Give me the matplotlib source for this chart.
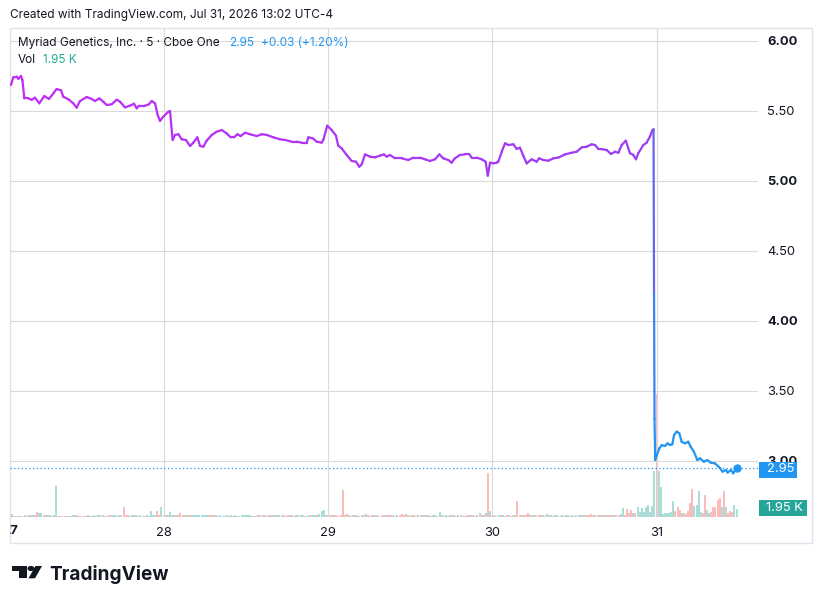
import numpy as np
import matplotlib
matplotlib.use('Agg')
import matplotlib.pyplot as plt
from matplotlib.collections import LineCollection
from matplotlib.colors import to_rgb
from matplotlib.patches import Rectangle, Polygon, Circle

W, H = 822, 604

# ── price line (5-min, days of the month) ──────────────────────────
t_price = [27.071, 27.085, 27.106, 27.116, 27.132, 27.141, 27.152, 27.177, 27.197, 27.217,
           27.243, 27.274, 27.302, 27.329, 27.349, 27.376, 27.389, 27.420, 27.450, 27.471,
           27.491, 27.532, 27.562, 27.582, 27.609, 27.633, 27.654, 27.684, 27.715, 27.735,
           27.765, 27.795, 27.820, 27.836, 27.850, 27.887, 27.911, 27.928, 27.948, 27.964,
           27.978, 27.998, 28.029, 28.039, 28.055, 28.069, 28.090, 28.110, 28.136, 28.161,
           28.181, 28.205, 28.222, 28.242, 28.262, 28.293, 28.323, 28.354, 28.384, 28.408,
           28.429, 28.449, 28.469, 28.496, 28.526, 28.567, 28.597, 28.628, 28.668, 28.708,
           28.739, 28.780, 28.810, 28.840, 28.871, 28.881, 28.907, 28.932, 28.962, 28.972,
           28.996, 29.023, 29.049, 29.063, 29.084, 29.114, 29.145, 29.171, 29.191, 29.206,
           29.226, 29.256, 29.287, 29.317, 29.341, 29.358, 29.378, 29.408, 29.449, 29.489,
           29.520, 29.560, 29.591, 29.621, 29.652, 29.678, 29.702, 29.733, 29.753, 29.773,
           29.804, 29.834, 29.861, 29.875, 29.906, 29.936, 29.960, 29.973, 29.987, 30.007,
           30.027, 30.037, 30.058, 30.078, 30.098, 30.129, 30.149, 30.169, 30.190, 30.210,
           30.240, 30.271, 30.285, 30.311, 30.342, 30.372, 30.402, 30.443, 30.484, 30.514,
           30.545, 30.575, 30.605, 30.626, 30.646, 30.676, 30.697, 30.723, 30.747, 30.768,
           30.788, 30.813, 30.839, 30.859, 30.875, 30.889, 30.920, 30.940, 30.960, 30.974,
           30.982, 30.985, 30.988, 30.992, 31.017, 31.032, 31.052, 31.066, 31.082, 31.096,
           31.107, 31.123, 31.139, 31.153, 31.173, 31.193, 31.208, 31.228, 31.248, 31.265,
           31.289, 31.309, 31.330, 31.356, 31.382, 31.403, 31.423, 31.433, 31.453, 31.467,
           31.488]
p_price = [5.686, 5.740, 5.745, 5.730, 5.750, 5.720, 5.590, 5.590, 5.580, 5.595,
           5.555, 5.607, 5.586, 5.626, 5.657, 5.648, 5.602, 5.584, 5.555, 5.524,
           5.571, 5.600, 5.586, 5.571, 5.590, 5.566, 5.543, 5.548, 5.581, 5.566,
           5.526, 5.538, 5.552, 5.519, 5.538, 5.538, 5.548, 5.571, 5.555, 5.471,
           5.429, 5.459, 5.495, 5.500, 5.293, 5.329, 5.334, 5.298, 5.293, 5.250,
           5.274, 5.312, 5.250, 5.245, 5.288, 5.329, 5.352, 5.364, 5.340, 5.312,
           5.312, 5.334, 5.321, 5.345, 5.334, 5.321, 5.334, 5.329, 5.312, 5.298,
           5.293, 5.281, 5.281, 5.274, 5.274, 5.312, 5.305, 5.281, 5.274, 5.293,
           5.395, 5.364, 5.324, 5.252, 5.233, 5.186, 5.143, 5.138, 5.102, 5.119,
           5.190, 5.174, 5.169, 5.181, 5.190, 5.174, 5.186, 5.162, 5.162, 5.150,
           5.167, 5.167, 5.155, 5.143, 5.155, 5.190, 5.162, 5.150, 5.131, 5.162,
           5.186, 5.190, 5.190, 5.167, 5.167, 5.155, 5.138, 5.038, 5.131, 5.126,
           5.131, 5.138, 5.209, 5.269, 5.257, 5.262, 5.229, 5.238, 5.179, 5.126,
           5.155, 5.138, 5.162, 5.150, 5.145, 5.162, 5.167, 5.190, 5.202, 5.209,
           5.240, 5.245, 5.262, 5.257, 5.229, 5.226, 5.221, 5.193, 5.209, 5.202,
           5.257, 5.288, 5.198, 5.186, 5.155, 5.198, 5.257, 5.274, 5.317, 5.360,
           5.370, 4.200, 3.300, 3.007, 3.090, 3.114, 3.107, 3.126, 3.114, 3.119,
           3.186, 3.210, 3.198, 3.138, 3.126, 3.138, 3.102, 3.066, 3.007, 3.019,
           2.995, 3.007, 2.988, 2.983, 2.955, 2.924, 2.936, 2.917, 2.936, 2.912,
           2.950]
assert len(t_price) == len(p_price)

# ── volume (thousands), one value per 5-min bar, u = up bar, d = down bar ──
BARS_PER_DAY = 78
vol_27 = [0.5, 0.8, 0.3, 0.3, 0.2, 0.3, 0.3, 0.4, 0.3, 0.4,
          0.5, 0.4, 0.5, 1.2, 0.9, 1.0, 0.4, 0.4, 0.5, 0.4,
          0.3, 0.5, 7.7, 0.3, 0.2, 0.2, 0.2, 0.2, 0.2, 0.3,
          0.4, 0.4, 0.4, 0.3, 0.3, 0.2, 0.2, 0.4, 0.3, 0.3,
          0.4, 0.3, 0.4, 0.5, 0.6, 0.3, 0.3, 0.5, 0.4, 0.4,
          0.6, 0.3, 0.4, 0.5, 2.4, 0.5, 0.6, 0.3, 0.4, 0.5,
          0.4, 0.3, 0.4, 0.3, 0.3, 0.4, 0.3, 1.4, 0.5, 0.6,
          1.4, 0.6, 2.4]
dir_27 = "uduudududu" "dudduududu" "duuddddudu" "uududduudu" "uduuuddudu" "uduuddduuu" "uduuduuuuu" "ddu"
vol_28 = [0.5, 0.4, 0.6, 1.2, 0.5, 0.5, 0.4, 0.4, 0.9, 0.5,
          0.5, 0.6, 0.4, 0.6, 0.4, 0.5, 0.5, 0.4, 0.4, 0.5,
          0.4, 0.4, 0.4, 0.4, 0.4, 0.4, 0.3, 0.4, 0.3, 0.2,
          0.4, 0.3, 0.4, 0.3, 0.4, 0.3, 0.3, 0.4, 0.5, 0.4,
          0.5, 0.4, 0.3, 0.3, 0.3, 0.4, 0.4, 0.4, 0.4, 0.3,
          0.5, 0.4, 0.5, 0.4, 0.4, 0.5, 0.4, 0.4, 0.3, 0.4,
          0.5, 0.4, 0.3, 0.5, 0.4, 0.5, 0.4, 0.3, 0.3, 0.4,
          0.5, 0.6, 0.4, 0.5, 0.8, 1.4, 1.7, 0.5]
dir_28 = "dduuududdd" "ududuuuuuu" "uuddduuuud" "uuududuuuu" "uudududdud" "duduuududd" "uduuduuduu" "duuduuuu"
vol_29 = [0.5, 0.4, 0.4, 0.4, 0.4, 0.3, 0.4, 6.7, 0.4, 0.8,
          0.4, 0.3, 0.4, 0.4, 0.5, 0.3, 0.4, 0.4, 0.8, 0.4,
          0.3, 0.5, 0.5, 0.4, 0.5, 0.3, 0.4, 0.5, 0.4, 0.4,
          0.6, 0.4, 0.3, 0.4, 0.4, 0.8, 0.4, 0.8, 0.4, 0.3,
          0.4, 0.4, 0.3, 0.5, 0.4, 0.4, 0.4, 0.5, 0.4, 0.3,
          0.4, 0.4, 0.3, 1.2, 0.4, 0.3, 0.4, 0.3, 0.4, 0.5,
          0.4, 0.3, 0.4, 0.5, 0.3, 0.3, 0.4, 0.5, 0.4, 0.4,
          0.3, 0.5, 1.0, 0.5, 0.4, 1.0, 11.0, 1.5]
dir_29 = "dddudddddd" "ududududud" "udududdudd" "dududddudd" "uddududuud" "uuduududud" "udududdudu" "dduddudu"
vol_30 = [0.3, 0.4, 0.3, 0.4, 0.5, 0.4, 0.3, 0.5, 0.4, 0.3,
          0.4, 0.5, 3.9, 0.4, 0.5, 0.4, 0.6, 1.0, 0.4, 0.4,
          0.5, 0.5, 0.4, 0.5, 0.4, 0.3, 0.8, 0.4, 0.4, 0.3,
          0.4, 0.5, 0.3, 0.4, 0.3, 0.6, 0.4, 0.3, 0.5, 0.3,
          0.4, 0.6, 0.5, 0.4, 0.6, 0.4, 0.6, 0.8, 0.5, 0.4,
          0.5, 0.4, 0.4, 0.5, 0.4, 0.4, 0.5, 0.6, 0.4, 0.5,
          0.6, 0.8, 2.3, 0.6, 1.9, 1.1, 1.8, 0.9, 1.0, 2.5,
          1.2, 2.2, 1.2, 2.5, 3.0, 1.3, 2.8, 11.5]
dir_30 = "uduududdud" "udddudddud" "uddduduuud" "uududuuduu" "duududddud" "dudduddudd" "duuddddudu" "uuuuuuuu"
vol_31 = [30.7, 11.5, 7.5, 0.75, 1.0, 1.0, 1.0, 1.25, 4.0, 1.5,
          2.5, 1.75, 1.0, 1.0, 0.75, 1.5, 3.5, 7.0, 2.75, 3.0,
          6.5, 1.25, 1.0, 5.5, 1.75, 1.0, 1.25, 2.5, 2.5, 4.25,
          4.75, 2.5, 6.5, 2.5, 1.0, 1.5, 1.25, 3.0, 1.95]
dir_31 = "duuuuuuuud" "dduddddduu" "uudduudddd" "dududdduu"

days = [(27, 5, vol_27, dir_27), (28, 0, vol_28, dir_28), (29, 0, vol_29, dir_29),
        (30, 0, vol_30, dir_30), (31, 0, vol_31, dir_31)]

LAST_PRICE = "2.95"
LAST_VOL = "1.95 K"
Y_TICKS = [3.0, 3.5, 4.0, 4.5, 5.0, 5.5, 6.0]
X_TICKS = [28, 29, 30, 31]

# colours
TEXT = '#131722'
GRID = '#dadada'
BLUE = '#2196f3'
TEAL = '#26a69a'
UP_BAR = '#92d2cc'
DOWN_BAR = '#f7a9a7'
PURPLE_A = '#c22cf7'
PURPLE_B = '#9a3ef0'

plt.rcParams['font.family'] = ['Inter', 'DejaVu Sans']


def px(x, y):
    return x / W, 1 - y / H


def x2day(x):          # pixel column -> day value on the time axis
    return 27 + (x + 0.7) / 164.3


def y2price(y):        # pixel row -> price
    return 6.0 - (y - 41) / 140.0


fig = plt.figure(figsize=(W / 100, H / 100), dpi=100)
fig.patch.set_facecolor('white')

L, R, T, B = 10, 758, 28, 517
ax = fig.add_axes([L / W, 1 - B / H, (R - L) / W, (B - T) / H])

# volume overlay (twin first, since twinx moves the price ticks to the left)
axv = ax.twinx()
axv.set_ylim(0, (B - T) * 0.25)
axv.set_yticks([])
for s in axv.spines.values():
    s.set_visible(False)
for day, start, vols, dirs in days:
    assert len(vols) == len(dirs), day
    tt = [day + (start + i) / BARS_PER_DAY for i in range(len(vols))]
    cc = [UP_BAR if d == 'u' else DOWN_BAR for d in dirs]
    axv.vlines(tt, 0, vols, colors=cc, lw=1.1)
axv.set_zorder(1)
ax.set_zorder(2)
ax.patch.set_visible(False)

ax.set_xlim(x2day(L), x2day(R))
ax.set_ylim(y2price(B), y2price(T))
for s in ax.spines.values():
    s.set_visible(False)
ax.set_yticks(Y_TICKS)
ax.set_xticks(X_TICKS)
ax.grid(True, color=GRID, lw=0.8)
ax.set_axisbelow(True)
ax.yaxis.tick_right()
ax.tick_params(length=0, colors=TEXT, labelsize=9.3)
ax.tick_params(axis='y', pad=6.5, labelright=True, labelleft=False)
ax.tick_params(axis='x', pad=7)
ax.set_yticklabels([f"{v:.2f}" for v in Y_TICKS])
for lbl, v in zip(ax.get_yticklabels(), Y_TICKS):
    if float(v).is_integer():
        lbl.set_fontweight('bold')
ax.set_xticklabels([str(d) for d in X_TICKS])

# price line with gradient
tp = np.array(t_price)
pp = np.array(p_price)
pts = np.column_stack([tp, pp])
segs = np.stack([pts[:-1], pts[1:]], axis=1)
drop_start = int(np.where(pp > 5.0)[0].max())
drop_end = drop_start + int(np.argmax(pp[drop_start:] < 3.05))
ca, cb, cblue = (np.array(to_rgb(c)) for c in (PURPLE_A, PURPLE_B, BLUE))
cols = []
for i in range(len(segs)):
    if i < drop_start:
        f = (tp[i] - tp[0]) / (tp[drop_start] - tp[0])
        cols.append(ca + (cb - ca) * f)
    elif i < drop_end:
        pm = 0.5 * (pp[i] + pp[i + 1])
        f = np.clip((pp[drop_start] - pm) / (pp[drop_start] - 3.0), 0, 1) ** 0.6
        cols.append(cb + (cblue - cb) * f)
    else:
        cols.append(cblue)
lc = LineCollection(segs, colors=cols, linewidths=1.6, capstyle='round', joinstyle='round')
ax.add_collection(lc)
ax.plot(tp[-1], pp[-1], 'o', color=BLUE, ms=5, zorder=5)
ax.axhline(pp[-1], color=BLUE, lw=0.9, ls=(0, (1, 2)), zorder=4)

# "27" label clipped at the pane edge
t27 = fig.text(*px(10, 531), "27", ha='center', va='center', fontsize=9.3,
               fontweight='bold', color=TEXT)
clip = Rectangle(px(10, 545), (R - L) / W, 30 / H, transform=fig.transFigure,
                 visible=False)
fig.add_artist(clip)
t27.set_clip_path(clip)

# outer frame
fig.add_artist(Rectangle(px(10, 543), (812 - 10) / W, (543 - 27.5) / H,
                         transform=fig.transFigure, fill=False,
                         edgecolor='#e0e3eb', lw=1.0))

# last price / volume labels on the scale
fig.add_artist(Rectangle(px(759, 478), 38 / W, 16 / H, transform=fig.transFigure,
                         facecolor=BLUE, edgecolor='none', zorder=5))
fig.text(*px(767, 469.5), LAST_PRICE, ha='left', va='center', fontsize=9.3,
         color='white', zorder=6)
fig.add_artist(Rectangle(px(759, 516), 48 / W, 16 / H, transform=fig.transFigure,
                         facecolor=TEAL, edgecolor='none', zorder=5))
fig.text(*px(766, 508), LAST_VOL, ha='left', va='center', fontsize=9.3,
         color='white', zorder=6)

# header texts
fig.text(*px(10, 15), "Created with TradingView.com, Jul 31, 2026 13:02 UTC-4",
         ha='left', va='center', fontsize=8.5, color=TEXT)
fig.text(*px(18, 43), "Myriad Genetics, Inc. · 5 · Cboe One", ha='left', va='center',
         fontsize=8.5, color=TEXT)
fig.text(*px(229, 43), LAST_PRICE, ha='left', va='center', fontsize=8.5, color=BLUE)
fig.text(*px(261, 43), "+0.03 (+1.20%)", ha='left', va='center', fontsize=8.5, color=BLUE)
fig.text(*px(18, 60), "Vol", ha='left', va='center', fontsize=8.5, color=TEXT)
fig.text(*px(43, 60), LAST_VOL, ha='left', va='center', fontsize=8.5, color='#22ab94')

# TradingView logo
logo = [Polygon([px(11.7, 566), px(26.7, 566), px(26.7, 578.3), px(19.3, 578.3),
                 px(19.3, 570.7), px(11.7, 570.7)], closed=True),
        Polygon([px(35.5, 566), px(42, 566), px(35, 578.3), px(28.5, 578.3)], closed=True)]
for pg in logo:
    pg.set_transform(fig.transFigure)
    pg.set_facecolor(TEXT)
    pg.set_edgecolor('none')
    fig.add_artist(pg)
fig.add_artist(Circle(px(31, 568.5), 2.6 / H, transform=fig.transFigure, facecolor=TEXT,
                      edgecolor='none'))
fig.text(*px(49, 574), "TradingView", ha='left', va='center', fontsize=13.7,
         fontweight='bold', color=TEXT)

fig.savefig('out.png', dpi=100)
